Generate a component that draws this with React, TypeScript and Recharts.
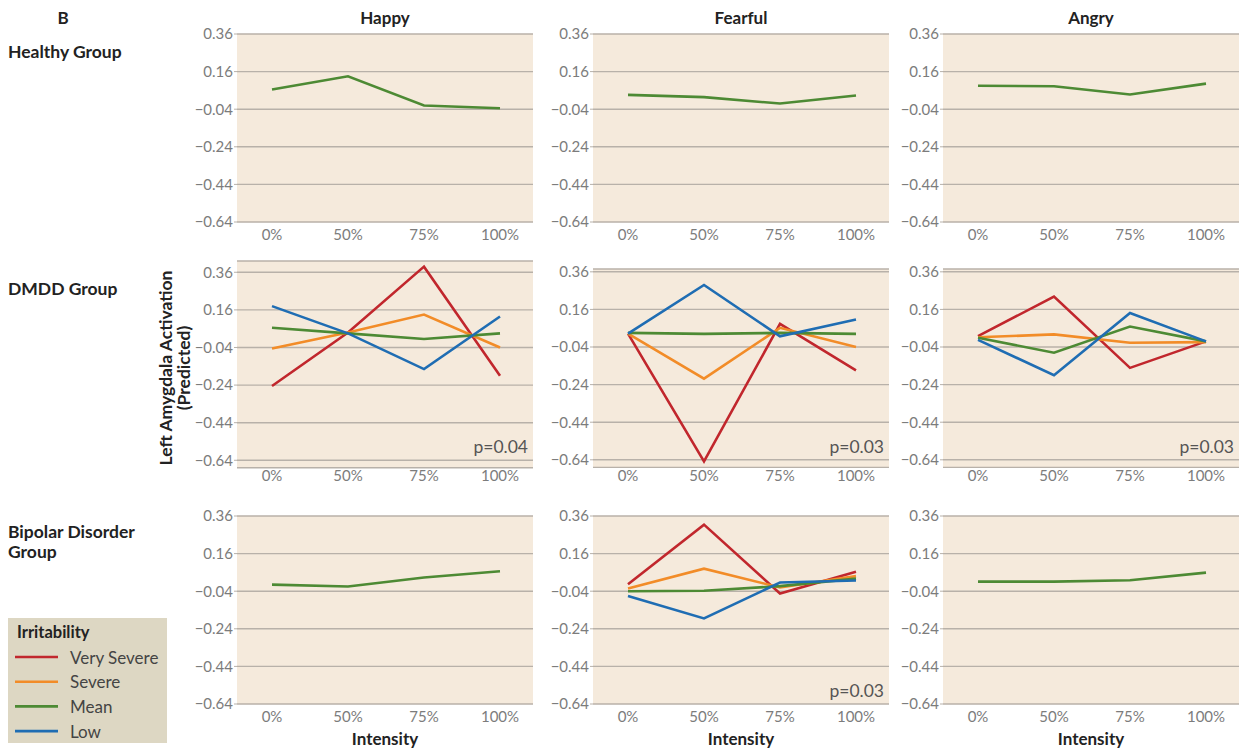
import React from "react";
import { LineChart, Line, XAxis, YAxis, CartesianGrid } from "recharts";

// categories on the x axis
const intensity = ["0%", "50%", "75%", "100%"];
const yTicks = [0.36, 0.16, -0.04, -0.24, -0.44, -0.64];

// Healthy group (mean only)
const healthyHappyMean = [0.065, 0.135, -0.02, -0.035];
const healthyFearfulMean = [0.036, 0.024, -0.01, 0.033];
const healthyAngryMean = [0.085, 0.082, 0.038, 0.096];

// DMDD group
const dmddHappyVerySevere = [-0.245, 0.04, 0.39, -0.19];
const dmddHappySevere = [-0.045, 0.04, 0.135, -0.04];
const dmddHappyMean = [0.065, 0.035, 0.005, 0.035];
const dmddHappyLow = [0.18, 0.035, -0.155, 0.125];

const dmddFearfulVerySevere = [0.031, -0.649, 0.083, -0.164];
const dmddFearfulSevere = [0.031, -0.208, 0.062, -0.04];
const dmddFearfulMean = [0.035, 0.03, 0.035, 0.03];
const dmddFearfulLow = [0.031, 0.29, 0.017, 0.106];

const dmddAngryVerySevere = [0.018, 0.228, -0.151, -0.01];
const dmddAngrySevere = [0.012, 0.027, -0.017, -0.014];
const dmddAngryMean = [0.009, -0.07, 0.069, -0.01];
const dmddAngryLow = [-0.002, -0.19, 0.141, -0.01];

// Bipolar disorder group
const bipolarHappyMean = [-0.005, -0.015, 0.033, 0.066];
const bipolarFearfulVerySevere = [-0.003, 0.314, -0.052, 0.063];
const bipolarFearfulSevere = [-0.026, 0.08, -0.02, 0.04];
const bipolarFearfulMean = [-0.04, -0.038, -0.013, 0.027];
const bipolarFearfulLow = [-0.065, -0.185, 0.006, 0.017];
const bipolarAngryMean = [0.011, 0.011, 0.018, 0.059];

const emotions = ["Happy", "Fearful", "Angry"];
const groups = [["Healthy Group"], ["DMDD Group"], ["Bipolar Disorder", "Group"]];
const levels = [
  { key: "verySevere", label: "Very Severe", color: "#c1272d" },
  { key: "severe", label: "Severe", color: "#f28c28" },
  { key: "mean", label: "Mean", color: "#4d8a34" },
  { key: "low", label: "Low", color: "#1f6db3" },
];

const FONT = "Lato, 'Open Sans', sans-serif";
const COL_X = [237, 593, 943];
const ROW_Y = [34, 272, 516]; // y pixel of the 0.36 gridline
const PLOT_W = 296;
const PX_PER_UNIT = 188;
const Y_AXIS_W = 48;
const X_AXIS_H = 30;
const TOP_PAD = 12;

interface PanelDef {
  row: number;
  col: number;
  series: Record<string, number[]>;
  domain: [number, number];
  p?: string;
}

const panels: PanelDef[] = [
  { row: 0, col: 0, series: { mean: healthyHappyMean }, domain: [-0.64, 0.36] },
  { row: 0, col: 1, series: { mean: healthyFearfulMean }, domain: [-0.64, 0.36] },
  { row: 0, col: 2, series: { mean: healthyAngryMean }, domain: [-0.64, 0.36] },
  {
    row: 1, col: 0, domain: [-0.68, 0.42], p: "p=0.04",
    series: { verySevere: dmddHappyVerySevere, severe: dmddHappySevere, mean: dmddHappyMean, low: dmddHappyLow },
  },
  {
    row: 1, col: 1, domain: [-0.68, 0.375], p: "p=0.03",
    series: { verySevere: dmddFearfulVerySevere, severe: dmddFearfulSevere, mean: dmddFearfulMean, low: dmddFearfulLow },
  },
  {
    row: 1, col: 2, domain: [-0.68, 0.375], p: "p=0.03",
    series: { verySevere: dmddAngryVerySevere, severe: dmddAngrySevere, mean: dmddAngryMean, low: dmddAngryLow },
  },
  { row: 2, col: 0, series: { mean: bipolarHappyMean }, domain: [-0.64, 0.36] },
  {
    row: 2, col: 1, domain: [-0.64, 0.36], p: "p=0.03",
    series: { verySevere: bipolarFearfulVerySevere, severe: bipolarFearfulSevere, mean: bipolarFearfulMean, low: bipolarFearfulLow },
  },
  { row: 2, col: 2, series: { mean: bipolarAngryMean }, domain: [-0.64, 0.36] },
];

const fmtY = (v: number) => (v < 0 ? "\u2212" : "") + Math.abs(v).toFixed(2);

const Panel = ({ def }: { def: PanelDef }) => {
  const [dmin, dmax] = def.domain;
  const plotTop = ROW_Y[def.row] - (dmax - 0.36) * PX_PER_UNIT;
  const plotH = (dmax - dmin) * PX_PER_UNIT;
  const data = intensity.map((name, i) => {
    const row: any = { name };
    Object.keys(def.series).forEach((k) => (row[k] = def.series[k][i]));
    return row;
  });
  const shown = levels.filter((l) => def.series[l.key]);
  const extraBottom = (-0.64 - dmin) * PX_PER_UNIT;

  return (
    <div style={{ position: "absolute", left: COL_X[def.col] - Y_AXIS_W, top: plotTop - TOP_PAD }}>
      <LineChart
        width={Y_AXIS_W + PLOT_W}
        height={TOP_PAD + plotH + X_AXIS_H}
        data={data}
        margin={{ top: TOP_PAD, right: 0, bottom: 0, left: 0 }}
      >
        <CartesianGrid vertical={false} stroke="#b8b1a9" strokeWidth={1.4} fill="#f5eadc" fillOpacity={1} />
        <XAxis
          dataKey="name"
          height={X_AXIS_H}
          axisLine={false}
          tickLine={false}
          padding={{ left: 35, right: 33 }}
          tickMargin={extraBottom > 0 ? -3 : 1}
          tick={{ fill: "#7c7c7c", fontSize: 15, fontFamily: FONT }}
          interval={0}
        />
        <YAxis
          type="number"
          width={Y_AXIS_W}
          domain={def.domain}
          allowDataOverflow
          ticks={yTicks}
          interval={0}
          axisLine={false}
          tickSize={3}
          tickMargin={1}
          tickLine={{ stroke: "#b8b1a9" }}
          tickFormatter={fmtY}
          tick={{ fill: "#7c7c7c", fontSize: 15, fontFamily: FONT }}
        />
        {shown.map((l) => (
          <Line
            key={l.key}
            type="linear"
            dataKey={l.key}
            stroke={l.color}
            strokeWidth={2.6}
            dot={false}
            isAnimationActive={false}
          />
        ))}
      </LineChart>
    </div>
  );
};

export default function App() {
  const colCenter = COL_X.map((x) => x + PLOT_W / 2);
  return (
    <div
      style={{
        position: "absolute",
        left: 0,
        top: 0,
        width: 1246,
        height: 748,
        background: "#ffffff",
        fontFamily: FONT,
        overflow: "hidden",
      }}
    >
      {panels.map((p, i) => (
        <Panel key={i} def={p} />
      ))}
      <svg width={1246} height={748} style={{ position: "absolute", left: 0, top: 0, pointerEvents: "none" }}>
        <g fontFamily={FONT} fill="#222">
          <text x={63} y={17} fontSize={17} fontWeight={700} textAnchor="middle" dominantBaseline="central">B</text>
          {emotions.map((e, i) => (
            <text key={e} x={colCenter[i]} y={17} fontSize={17} fontWeight={700} textAnchor="middle" dominantBaseline="central">
              {e}
            </text>
          ))}
          {emotions.map((e, i) => (
            <text key={"x" + e} x={colCenter[i]} y={738} fontSize={17} fontWeight={700} textAnchor="middle" dominantBaseline="central">
              Intensity
            </text>
          ))}
          {groups.map((g, i) =>
            g.map((line, j) => (
              <text key={line} x={8} y={[51, 288, 531][i] + j * 20} fontSize={17.5} fontWeight={700} dominantBaseline="central">
                {line}
              </text>
            ))
          )}
          <g transform="translate(165, 368) rotate(-90)">
            <text x={0} y={0} fontSize={17.5} fontWeight={700} textAnchor="middle" dominantBaseline="central">
              Left Amygdala Activation
            </text>
            <text x={0} y={18} fontSize={17.5} fontWeight={700} textAnchor="middle" dominantBaseline="central">
              (Predicted)
            </text>
          </g>
          {panels
            .filter((p) => p.p)
            .map((p, i) => (
              <text
                key={"p" + i}
                x={COL_X[p.col] + PLOT_W - 5}
                y={ROW_Y[p.row] + 174}
                fontSize={17.5}
                fill="#555"
                textAnchor="end"
                dominantBaseline="central"
              >
                {p.p}
              </text>
            ))}
        </g>
        <g fontFamily={FONT}>
          <rect x={8} y={618} width={159} height={125} fill="#ddd7c3" />
          <text x={17} y={632} fontSize={16.5} fontWeight={700} fill="#222" dominantBaseline="central">
            Irritability
          </text>
          {levels.map((l, i) => (
            <g key={l.key}>
              <line x1={15} x2={58} y1={657 + i * 24.7} y2={657 + i * 24.7} stroke={l.color} strokeWidth={2.6} />
              <text x={70} y={657 + i * 24.7} fontSize={17} fill="#444" dominantBaseline="central">
                {l.label}
              </text>
            </g>
          ))}
        </g>
      </svg>
    </div>
  );
}
